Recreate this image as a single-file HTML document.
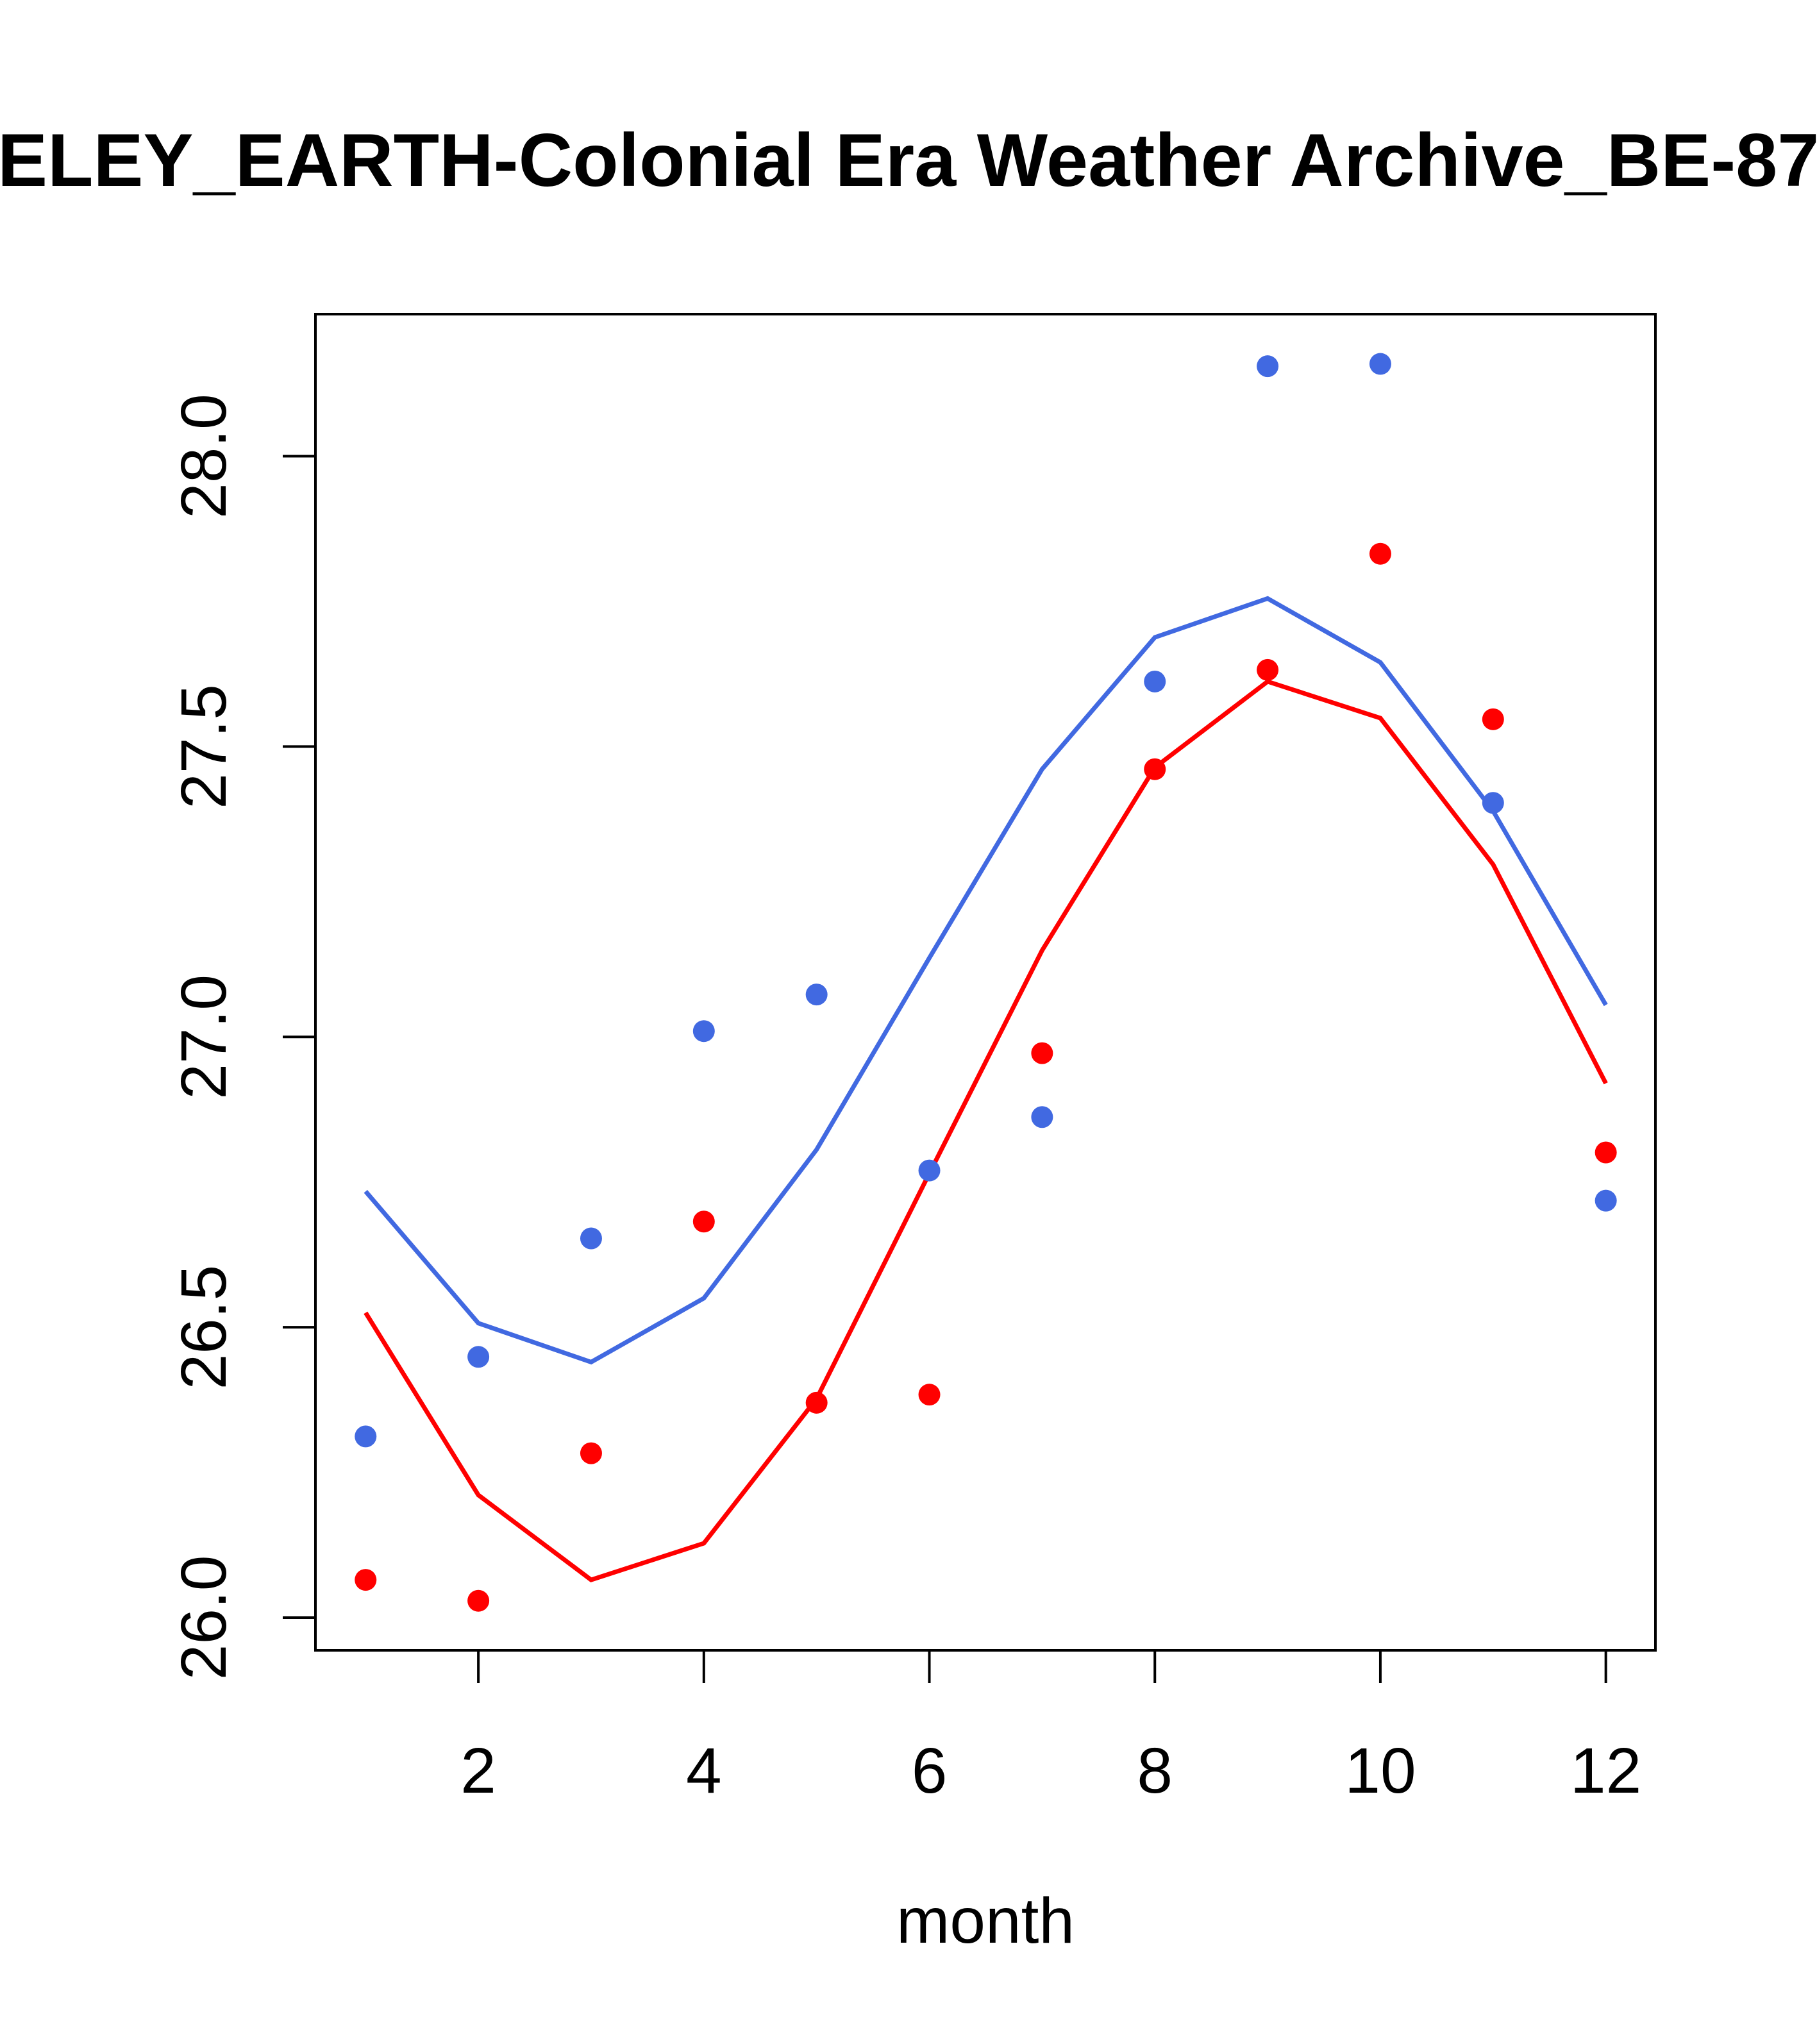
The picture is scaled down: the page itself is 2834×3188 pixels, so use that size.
<!DOCTYPE html>
<html><head><meta charset="utf-8"><style>html,body{margin:0;padding:0;background:#fff}svg{display:block}</style></head>
<body>
<svg id="chart" width="2834" height="3188" viewBox="0 0 2834 3188" xmlns="http://www.w3.org/2000/svg" font-family="'Liberation Sans', Arial, sans-serif">
<rect width="2834" height="3188" fill="#fff"/>
<text id="title" x="0" y="290" font-size="117" font-weight="bold"><tspan id="pre">BERK</tspan>ELEY_EARTH-Colonial Era Weather Archive_BE-8760</text>
<rect x="492" y="490" width="2090" height="2084" fill="none" stroke="#000" stroke-width="4"/>
<g id="xaxis"></g>
<g id="yaxis"></g>
<text x="1537" y="3030" font-size="100" text-anchor="middle">month</text>
<g id="series"></g>
</svg>
<script>
const months=[1,2,3,4,5,6,7,8,9,10,11,12];
const bluePoints=[26.312,26.449,26.653,27.010,27.073,26.770,26.862,27.612,28.155,28.159,27.403,26.718];
const redPoints=[26.065,26.029,26.283,26.682,26.370,26.384,26.972,27.461,27.632,27.832,27.547,26.801];
const blueLine=[26.734,26.507,26.440,26.550,26.806,27.136,27.461,27.688,27.755,27.645,27.389,27.055];
const redLine=[26.525,26.211,26.065,26.128,26.377,26.765,27.149,27.464,27.612,27.549,27.297,26.920];
const xTicks=[2,4,6,8,10,12];
const yTicks=[26.0,26.5,27.0,27.5,28.0];
const yTickLabels=["26.0","26.5","27.0","27.5","28.0"];
const NS="http://www.w3.org/2000/svg";
const S=2.033;
function xs(m){return (280.5+(m-1)*86.5)*S;}
function ys(v){return (350+(28-v)*445.5)*S;}
function mk(t,a,p){const e=document.createElementNS(NS,t);for(const k in a)e.setAttribute(k,a[k]);p.appendChild(e);return e;}
try{const pre=document.getElementById('pre');const w=pre.getComputedTextLength();document.getElementById('title').setAttribute('x',-w-4);}catch(e){}
const xa=document.getElementById('xaxis'),ya=document.getElementById('yaxis'),sr=document.getElementById('series');
xTicks.forEach(t=>{
 const l=mk('line',{x1:xs(t),x2:xs(t),y1:2574,y2:2625,stroke:'#000','stroke-width':4},xa);
 
 
 const tx=mk('text',{x:xs(t),y:2796,'font-size':100,'text-anchor':'middle'},xa);tx.textContent=t;
 
 
});
yTicks.forEach((t,i)=>{
 const y=ys(t);
 const l=mk('line',{x1:441,x2:492,y1:y,y2:y,stroke:'#000','stroke-width':4},ya);
 
 
 const tx=mk('text',{x:352,y:y,'font-size':100,'text-anchor':'middle',transform:`rotate(-90 352 ${y})`},ya);tx.textContent=yTickLabels[i];
 
 
});
function line(vals,col,name){
 const p=mk('polyline',{points:vals.map((v,i)=>xs(months[i])+','+ys(v)).join(' '),fill:'none',stroke:col,'stroke-width':7},sr);
 
 
}
function pts(vals,col,name){
 vals.forEach((v,i)=>{const c=mk('circle',{cx:xs(months[i]),cy:ys(v),r:17,fill:col},sr);
 
 });
}
line(blueLine,'#4169E1','blue-line');
line(redLine,'#FF0000','red-line');
pts(bluePoints,'#4169E1','blue-point');
pts(redPoints,'#FF0000','red-point');
</script>
</body></html>
